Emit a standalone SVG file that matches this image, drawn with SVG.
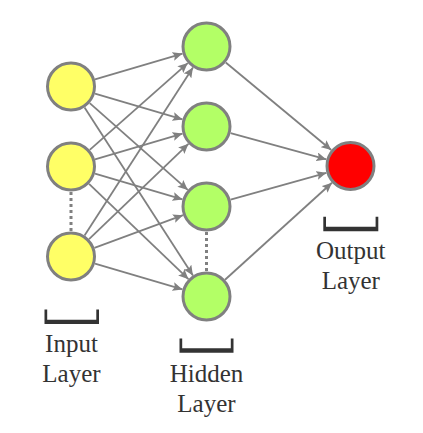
<svg xmlns="http://www.w3.org/2000/svg" width="423" height="433" viewBox="0 0 423 433">
<style>
.n{stroke:#808080;stroke-width:3}
.in{fill:#ffff66}
.hid{fill:#b3ff66}
.out{fill:#ff0000}
.e{stroke:#808080;stroke-width:1.8;fill:none;marker-end:url(#arr)}
.dot{stroke:#808080;stroke-width:3;stroke-dasharray:3 3;fill:none}
.br{fill:#333333}
.lbl{font-family:"Liberation Serif","Times New Roman",serif;font-size:25px;fill:#333333;text-anchor:middle}
</style>
<defs>
<marker id="arr" markerUnits="userSpaceOnUse" markerWidth="11" markerHeight="9" refX="10" refY="4.5" orient="auto">
<path d="M0,0 L10,4.5 L0,9 L2,4.5 z" fill="#808080"/>
</marker>
</defs>
<rect width="423" height="433" fill="#ffffff"/>
<g id="connectors">
<line class="e" x1="94.98" y1="79.42" x2="182.52" y2="53.58"/>
<line class="e" x1="94.98" y1="93.58" x2="182.52" y2="119.42"/>
<line class="e" x1="89.72" y1="103.07" x2="187.78" y2="189.93"/>
<line class="e" x1="84.55" y1="107.51" x2="192.95" y2="275.49"/>
<line class="e" x1="89.72" y1="149.93" x2="187.78" y2="63.07"/>
<line class="e" x1="94.98" y1="159.42" x2="182.52" y2="133.58"/>
<line class="e" x1="94.98" y1="173.58" x2="182.52" y2="199.42"/>
<line class="e" x1="89.04" y1="183.81" x2="188.46" y2="279.19"/>
<line class="e" x1="84.55" y1="235.49" x2="192.95" y2="67.51"/>
<line class="e" x1="89.04" y1="239.19" x2="188.46" y2="143.81"/>
<line class="e" x1="94.45" y1="247.85" x2="183.05" y2="215.15"/>
<line class="e" x1="94.98" y1="263.58" x2="182.52" y2="289.42"/>
<line class="e" x1="225.74" y1="62.46" x2="331.26" y2="150.04"/>
<line class="e" x1="230.61" y1="133.11" x2="326.39" y2="159.39"/>
<line class="e" x1="230.57" y1="199.73" x2="326.43" y2="172.77"/>
<line class="e" x1="225.02" y1="279.71" x2="331.98" y2="182.79"/>
<line class="dot" x1="71" y1="192" x2="71" y2="231"/>
<line class="dot" x1="206.5" y1="232" x2="206.5" y2="271"/>
</g>
<g id="input1"><circle class="n in" cx="71" cy="86.5" r="23.5"/></g>
<g id="input2"><circle class="n in" cx="71" cy="166.5" r="23.5"/></g>
<g id="input3"><circle class="n in" cx="71" cy="256.5" r="23.5"/></g>
<g id="hidden1"><circle class="n hid" cx="206.5" cy="46.5" r="23.5"/></g>
<g id="hidden2"><circle class="n hid" cx="206.5" cy="126.5" r="23.5"/></g>
<g id="hidden3"><circle class="n hid" cx="206.5" cy="206.5" r="23.5"/></g>
<g id="hidden4"><circle class="n hid" cx="206.5" cy="296.5" r="23.5"/></g>
<g id="output"><circle class="n out" cx="350.5" cy="166" r="23.5"/></g>
<g id="input-label">
<path class="br" d="M44.5,309.5 H47.2 V319.7 H96.3 V309.5 H99 V324 H44.5 Z"/>
<text class="lbl" x="71.5" y="351.5">Input</text>
<text class="lbl" x="71.5" y="381.5">Layer</text>
</g>
<g id="hidden-label">
<path class="br" d="M179.5,338.5 H182.2 V348.2 H230.8 V338.5 H233.5 V352.8 H179.5 Z"/>
<text class="lbl" x="206.5" y="381.5">Hidden</text>
<text class="lbl" x="206.5" y="412">Layer</text>
</g>
<g id="output-label">
<path class="br" d="M323.3,216.8 H326 V226.8 H375.6 V216.8 H378.3 V231.2 H323.3 Z"/>
<text class="lbl" x="350.8" y="258.5">Output</text>
<text class="lbl" x="350.8" y="289">Layer</text>
</g>
</svg>
